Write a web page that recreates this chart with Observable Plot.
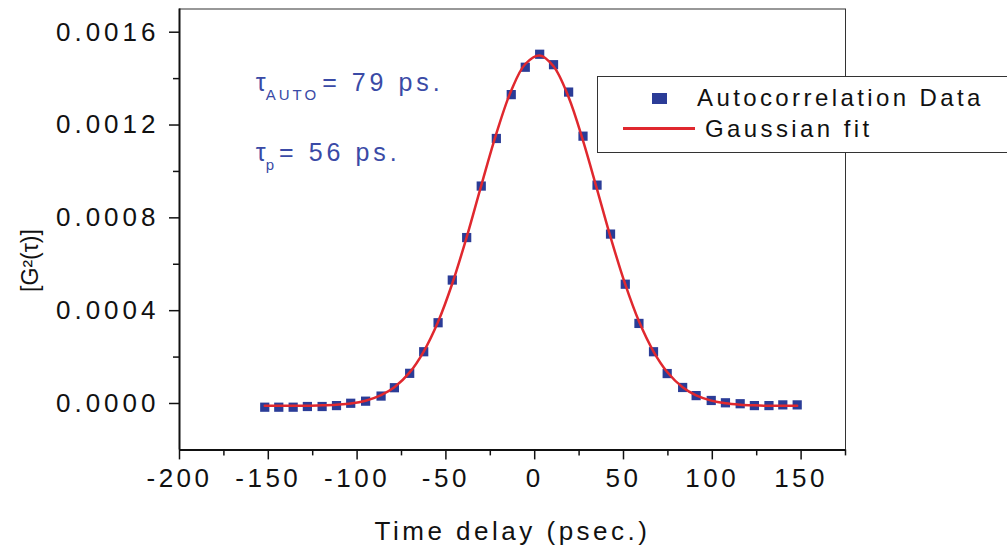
<!DOCTYPE html>
<html><head><meta charset="utf-8">
<script src="https://cdn.jsdelivr.net/npm/d3@7"></script>
<script src="https://cdn.jsdelivr.net/npm/@observablehq/plot@0.6"></script>
<style>
html,body{margin:0;padding:0;background:#fff;}
#wrap{position:relative;width:1007px;height:549px;overflow:hidden;font-family:'Liberation Sans',Arial,sans-serif;color:#111;}
#wrap svg{display:block;}
.lg-box{position:absolute;left:597px;top:76px;width:430px;height:77px;border:1.5px solid #333;background:#fff;box-sizing:border-box;}
.lg-sq{position:absolute;left:652px;top:93px;width:15px;height:11px;}
.lg-ln{position:absolute;left:623px;top:127px;width:72px;height:2.5px;}
.lg-tx{position:absolute;font-size:24px;line-height:24px;letter-spacing:3.4px;white-space:nowrap;color:#111;}
</style></head>
<body><div id="wrap"></div>
<script>
// ---- data ----
const timeDelay = [-152.0, -144.1, -136.0, -128.0, -119.7, -111.6, -103.6, -95.2, -86.5, -79.0,
  -70.4, -62.5, -54.4, -46.4, -38.3, -30.1, -21.6, -13.2, -5.3, 2.8,
  10.6, 19.1, 27.2, 35.1, 42.7, 51.0, 58.7, 66.9, 74.6, 83.3,
  90.9, 99.4, 107.4, 115.7, 123.7, 131.9, 139.7, 147.8];
const g2Data = [-0.000016, -0.000016, -0.000016, -0.000013, -0.000013, -0.000009, 0.000001, 0.00001, 0.000032, 0.000068,
  0.00013, 0.000223, 0.000348, 0.000532, 0.000715, 0.000937, 0.001142, 0.001331, 0.001449, 0.001505,
  0.00146, 0.001342, 0.001152, 0.000941, 0.00073, 0.000514, 0.000345, 0.000223, 0.000129, 0.000069,
  0.000034, 0.000013, 0.000003, -0.000001, -0.000009, -0.000009, -0.000006, -0.000006];
const g2Fit = [-0.00001, -0.00001, -0.00001, -0.00001, -0.000008, -0.000005, 0.0, 0.000012, 0.000036, 0.00007,
  0.000134, 0.000224, 0.000352, 0.000517, 0.000717, 0.000939, 0.001163, 0.001349, 0.001463, 0.0015,
  0.001453, 0.00132, 0.001133, 0.000923, 0.000717, 0.000513, 0.000354, 0.000224, 0.000136, 0.00007,
  0.000035, 0.0000125, 0.000001, -0.000005, -0.000008, -0.00001, -0.00001, -0.00001];

const xMajorTicks = [-200, -150, -100, -50, 0, 50, 100, 150];
const xTickLabels = ["-200", "-150", "-100", "-50", "0", "50", "100", "150"];
const xMinorTicks = [-175, -125, -75, -25, 25, 75, 125, 175];
const yMajorTicks = [0, 0.0004, 0.0008, 0.0012, 0.0016];
const yTickLabels = ["0.0000", "0.0004", "0.0008", "0.0012", "0.0016"];
const yMinorTicks = [0.0002, 0.0006, 0.001, 0.0014];

const xTitle = "Time delay (psec.)";
const yTitle = "[G²(τ)]";
const noteSym = ["τ", "τ"];
const noteSub = ["AUTO", "p"];
const noteRest = ["= 79 ps.", "= 56 ps."];
const noteX = [-157, -157];
const noteY = [0.001345, 0.001047];
const legendLabels = ["Autocorrelation Data", "Gaussian fit"];

// ---- style ----
const FONT = "'Liberation Sans', Arial, Helvetica, sans-serif";
const MARKER = "#2b3c97";
const RED = "#e0282e";
const NOTE = "#3a4aa6";
const INK = "#111";

const chart = Plot.plot({
  width: 1007, height: 549,
  marginLeft: 179, marginRight: 162, marginTop: 8.5, marginBottom: 99.6,
  style: {fontFamily: FONT, background: "white", color: INK, overflow: "visible"},
  x: {domain: [-200, 175], label: null},
  y: {domain: [-0.0002, 0.0017], label: null},
  marks: [
    Plot.frame({stroke: "#333", strokeWidth: 1}),
    Plot.ruleX([-200], {stroke: INK, strokeWidth: 2}),
    Plot.ruleY([-0.0002], {stroke: INK, strokeWidth: 2}),
    Plot.axisX(xMajorTicks, {tickSize: 10, tickPadding: 9, fontSize: 26, strokeWidth: 1.5,
      tickFormat: d => xTickLabels[xMajorTicks.indexOf(d)]}),
    Plot.axisX(xMinorTicks, {tickSize: 6, strokeWidth: 1.5, tickFormat: () => ""}),
    Plot.axisY(yMajorTicks, {tickSize: 10, tickPadding: 10, fontSize: 26, strokeWidth: 1.5,
      tickFormat: d => yTickLabels[yMajorTicks.indexOf(d)]}),
    Plot.axisY(yMinorTicks, {tickSize: 6, strokeWidth: 1.5, tickFormat: () => ""}),
    Plot.dot(timeDelay, {x: d => d, y: (d, i) => g2Data[i], symbol: "square", r: 5.2, fill: MARKER, stroke: "none"}),
    Plot.line(timeDelay, {x: d => d, y: (d, i) => g2Fit[i], curve: "catmull-rom", stroke: RED, strokeWidth: 2.5}),
    Plot.text(noteSym, {x: (d, i) => noteX[i], y: (d, i) => noteY[i], text: (d, i) => noteSym[i] + noteSub[i] + noteRest[i],
      textAnchor: "start", lineAnchor: "bottom", fontSize: 25, fill: NOTE}),
    Plot.text([yTitle], {x: () => -200, y: () => 0.000616, dx: -142, rotate: -90, lineAnchor: "bottom",
      textAnchor: "middle", fontSize: 23, fill: INK}),
    Plot.text([xTitle], {frameAnchor: "bottom", dy: 90, lineAnchor: "bottom", fontSize: 26, fill: INK})
  ]
});

const svg = d3.select(chart);
svg.selectAll('g[aria-label="x-axis tick label"] text').attr("letter-spacing", 3.5);
svg.selectAll('g[aria-label="y-axis tick label"] text').attr("letter-spacing", 4);
const textGroups = svg.selectAll('g[aria-label="text"]').nodes();
// order: notes, y-title, x-title
d3.select(textGroups[2]).selectAll("text").attr("letter-spacing", 3.5);
d3.select(textGroups[0]).selectAll("text").each(function(_, i) {
  const t = d3.select(this);
  t.text(null);
  t.append("tspan").text(noteSym[i]);
  t.append("tspan").attr("dy", 9).attr("font-size", 15).attr("letter-spacing", 3).text(noteSub[i]);
  t.append("tspan").attr("dy", -9).attr("dx", i === 0 ? 3 : 2).attr("letter-spacing", 4).text(noteRest[i]);
});

const wrap = document.getElementById("wrap");
wrap.appendChild(chart);

// legend (HTML overlay)
const box = document.createElement("div"); box.className = "lg-box"; wrap.appendChild(box);
const sq = document.createElement("div"); sq.className = "lg-sq"; sq.style.background = MARKER; wrap.appendChild(sq);
const ln = document.createElement("div"); ln.className = "lg-ln"; ln.style.background = RED; wrap.appendChild(ln);
const t1 = document.createElement("div"); t1.className = "lg-tx"; t1.style.left = "697px"; t1.style.top = "86px"; t1.textContent = legendLabels[0]; wrap.appendChild(t1);
const t2 = document.createElement("div"); t2.className = "lg-tx"; t2.style.left = "705px"; t2.style.top = "117px"; t2.textContent = legendLabels[1]; wrap.appendChild(t2);
</script>
</body></html>
